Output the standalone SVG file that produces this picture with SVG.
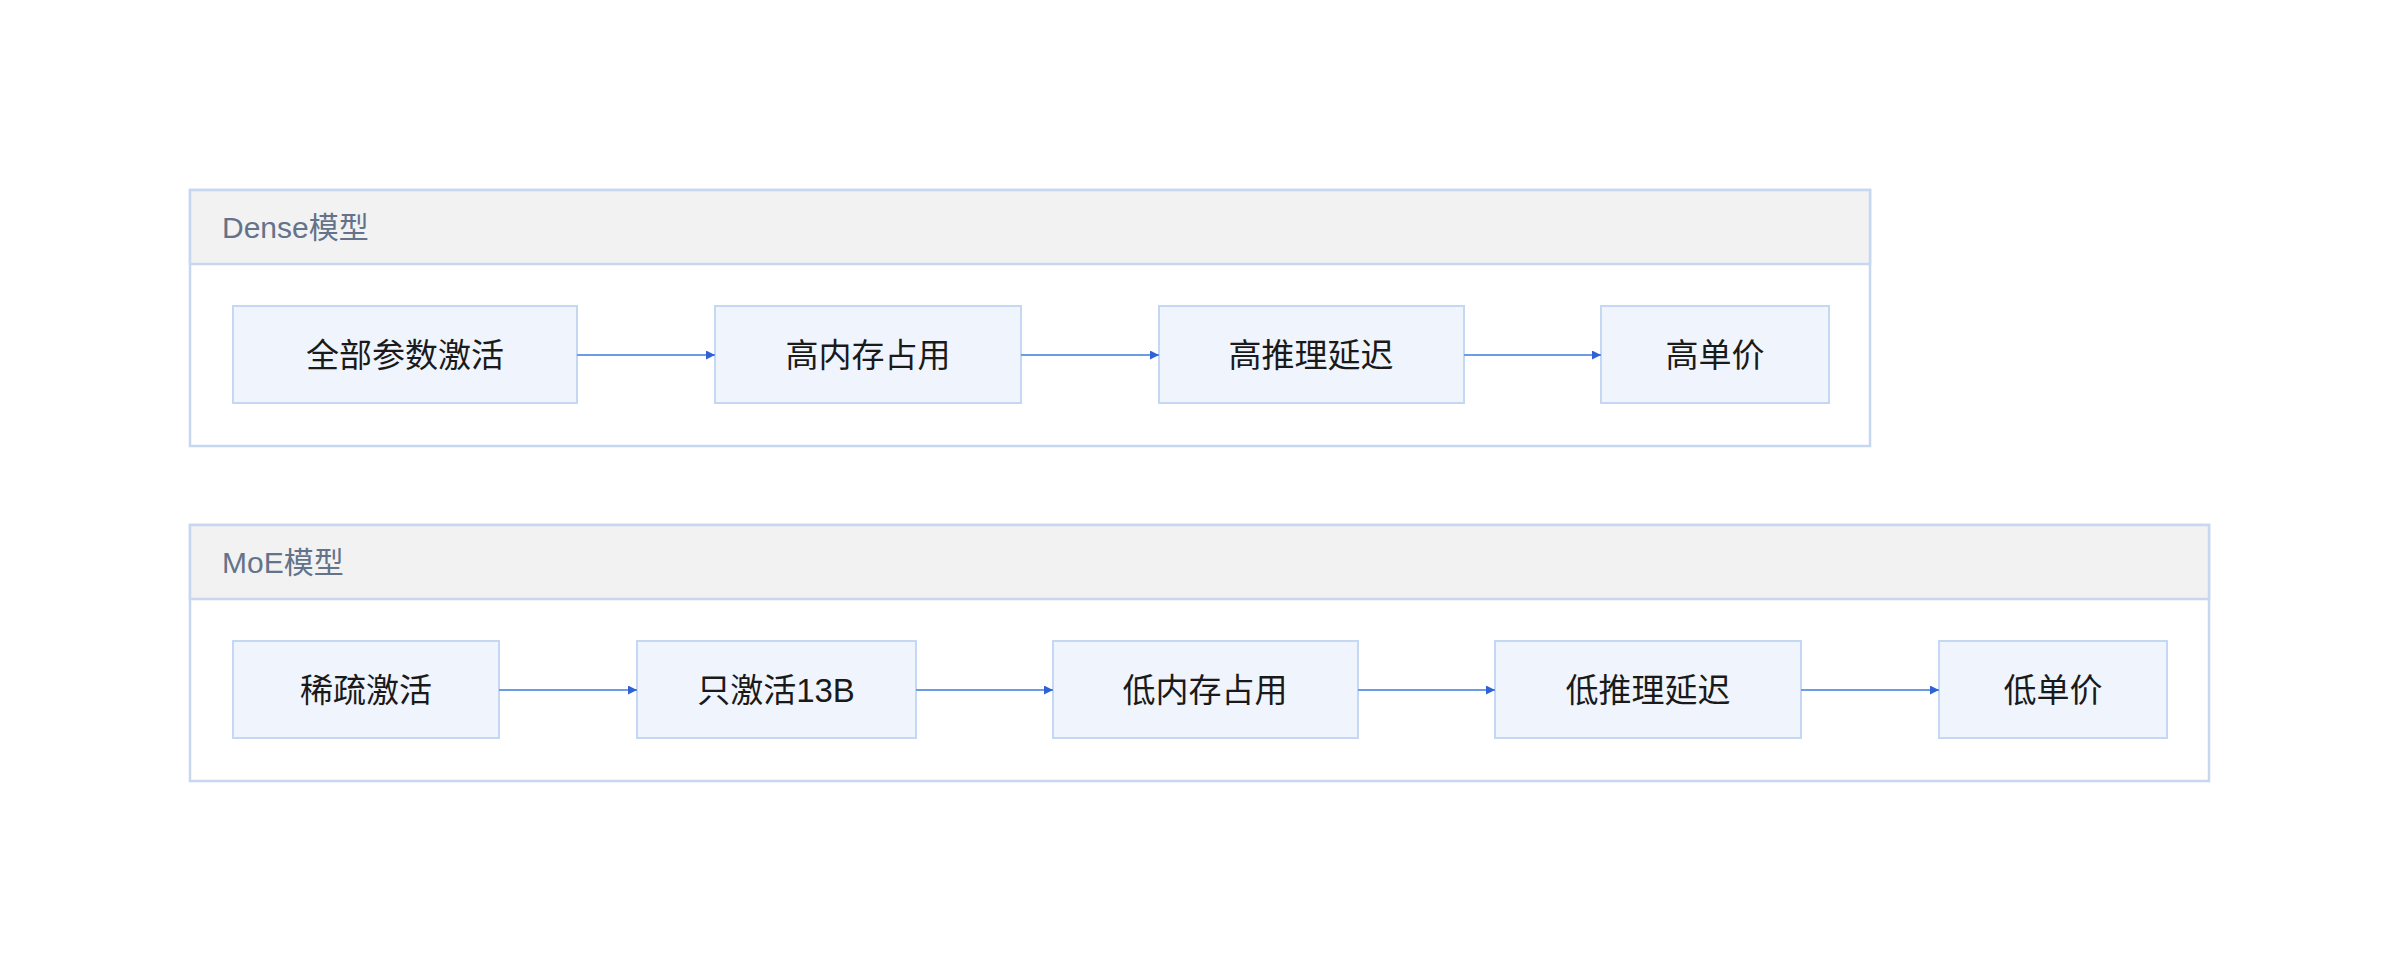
<svg xmlns="http://www.w3.org/2000/svg" width="2400" height="972" viewBox="0 0 2400 972">
<style>
.ct{fill:#fff;stroke:#c7d7f0;stroke-width:2.5}
.hd{fill:#f2f2f2;stroke:#c7d7f0;stroke-width:2.5}
.ht{font-family:"Liberation Sans","Noto Sans CJK SC",sans-serif;font-size:30px;fill:#647389}
.nd{fill:#f0f5fd;stroke:#c5d8f3;stroke-width:2}
.nt{font-family:"Liberation Sans","Noto Sans CJK SC",sans-serif;font-size:33px;fill:#1a1a1a;text-anchor:middle;dominant-baseline:central}
.ln{stroke:#6c9ce6;stroke-width:2.2;fill:none;marker-end:url(#a)}
</style>
<defs><marker id="a" viewBox="0 0 10 10" refX="10" refY="5" markerWidth="9" markerHeight="9" markerUnits="userSpaceOnUse" orient="auto"><path d="M0,0L10,5L0,10z" fill="#2f62d6"/></marker></defs>
<rect x="0" y="0" width="2400" height="972" fill="#fff"/>
<g id="dense"><rect class="ct" x="190" y="190" width="1680" height="256"/><rect class="hd" x="190" y="190" width="1680" height="74"/><text class="ht" x="222" y="238">Dense模型</text></g>
<g id="moe"><rect class="ct" x="190" y="525" width="2019" height="256"/><rect class="hd" x="190" y="525" width="2019" height="74"/><text class="ht" x="222" y="573">MoE模型</text></g>
<g id="d1"><rect class="nd" x="233" y="306" width="344" height="97"/><text class="nt" x="405" y="355">全部参数激活</text></g>
<g id="d2"><rect class="nd" x="715" y="306" width="306" height="97"/><text class="nt" x="868" y="355">高内存占用</text></g>
<g id="d3"><rect class="nd" x="1159" y="306" width="305" height="97"/><text class="nt" x="1311" y="355">高推理延迟</text></g>
<g id="d4"><rect class="nd" x="1601" y="306" width="228" height="97"/><text class="nt" x="1715" y="355">高单价</text></g>
<g id="m1"><rect class="nd" x="233" y="641" width="266" height="97"/><text class="nt" x="366" y="690">稀疏激活</text></g>
<g id="m2"><rect class="nd" x="637" y="641" width="279" height="97"/><text class="nt" x="776" y="690">只激活13B</text></g>
<g id="m3"><rect class="nd" x="1053" y="641" width="305" height="97"/><text class="nt" x="1205" y="690">低内存占用</text></g>
<g id="m4"><rect class="nd" x="1495" y="641" width="306" height="97"/><text class="nt" x="1648" y="690">低推理延迟</text></g>
<g id="m5"><rect class="nd" x="1939" y="641" width="228" height="97"/><text class="nt" x="2053" y="690">低单价</text></g>
<g id="connectors">
<path class="ln" d="M577,355H715"/><path class="ln" d="M1021,355H1159"/><path class="ln" d="M1464,355H1601"/>
<path class="ln" d="M499,690H637"/><path class="ln" d="M916,690H1053"/><path class="ln" d="M1358,690H1495"/><path class="ln" d="M1801,690H1939"/>
</g>
</svg>
